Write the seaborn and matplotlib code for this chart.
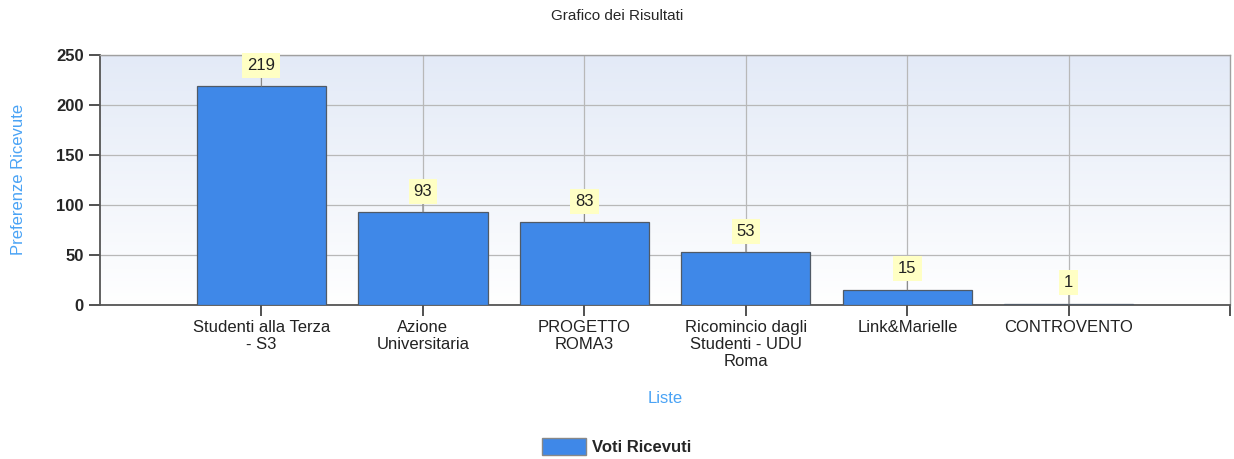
import numpy as np
import pandas as pd
import seaborn as sns
import matplotlib.pyplot as plt
from matplotlib.colors import LinearSegmentedColormap
from matplotlib.patches import Patch

# data
liste = ['Studenti alla Terza\n- S3', 'Azione\nUniversitaria', 'PROGETTO\nROMA3',
         'Ricomincio dagli\nStudenti - UDU\nRoma', 'Link&Marielle', 'CONTROVENTO']
voti = [219, 93, 83, 53, 15, 1]

df = pd.DataFrame({'lista': liste, 'voti': voti})

sns.set_style('white')
plt.rcParams['font.family'] = ['Liberation Sans', 'DejaVu Sans']

fig = plt.figure(figsize=(12.34, 4.59), dpi=100)
ax = fig.add_axes([0.081, 0.336, 0.916, 0.544])

# gradient background (light blue on top -> white at bottom)
cmap = LinearSegmentedColormap.from_list('bg', ['#ffffff', '#e3eaf7'])
grad = np.linspace(0, 1, 256).reshape(-1, 1)
ax.imshow(grad, extent=[-1, 6, 0, 250], origin='lower', aspect='auto',
          cmap=cmap, zorder=0)

sns.barplot(data=df, x='lista', y='voti', color='#3f88e8', saturation=1,
            width=0.8, edgecolor='#505a66', linewidth=0.9, ax=ax, zorder=3)

ax.set_xlim(-1, 6)
ax.set_ylim(0, 250)
ax.set_yticks(range(0, 251, 50))
ax.set_xticks(range(len(liste)))
ax.set_xticks([6], minor=True)
ax.set_xticklabels(liste, fontsize=12, color='#222222', linespacing=1.15)
for t in ax.get_yticklabels():
    t.set_fontweight('bold')
    t.set_fontsize(12)

ax.grid(True, color='#b8b8b8', linewidth=0.9, zorder=1)
ax.set_axisbelow(True)
ax.tick_params(axis='both', which='both', direction='out', length=8,
               width=1.2, color='#333333', bottom=True, left=True)
ax.tick_params(axis='x', pad=3)

for side in ['left', 'bottom']:
    ax.spines[side].set_color('#555555')
    ax.spines[side].set_linewidth(1.3)
for side in ['top', 'right']:
    ax.spines[side].set_color('#a0a0a0')
    ax.spines[side].set_linewidth(1.0)

# value labels with leader lines
for i, v in enumerate(voti):
    ax.annotate(str(v), xy=(i, v), xytext=(0, 15), textcoords='offset points',
                ha='center', va='center', fontsize=12, color='#222222',
                bbox=dict(boxstyle='square,pad=0.3', facecolor='#ffffc4',
                          edgecolor='none'),
                arrowprops=dict(arrowstyle='-', color='#888888', lw=0.8,
                                shrinkA=0, shrinkB=0),
                zorder=5)

ax.set_xlabel('Liste', fontsize=12, color='#4aa3f5', labelpad=16)
ax.set_ylabel('Preferenze Ricevute', fontsize=12, color='#4aa3f5', labelpad=22)
fig.suptitle('Grafico dei Risultati', fontsize=11, y=0.98)

fig.legend(handles=[Patch(facecolor='#3f88e8', edgecolor='#888888',
                          label='Voti Ricevuti')],
           loc='center', bbox_to_anchor=(0.5, 0.028), frameon=False,
           prop={'weight': 'bold', 'size': 12}, handlelength=2.6,
           handleheight=1.2, handletextpad=0.4)

fig.savefig('out.png', dpi=100)
